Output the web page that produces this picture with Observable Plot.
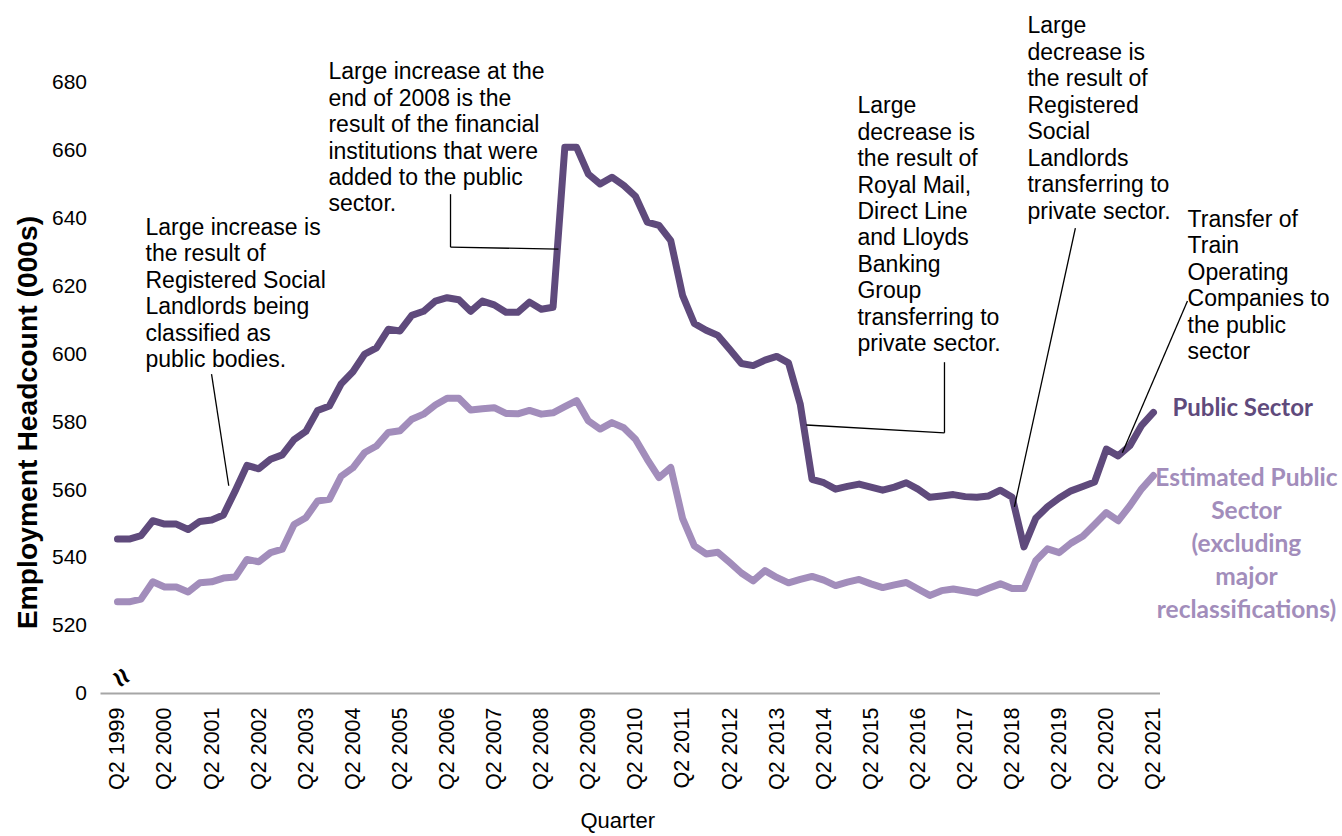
<!DOCTYPE html>
<html><head><meta charset="utf-8">
<script src="https://cdn.jsdelivr.net/npm/d3@7"></script>
<script src="https://cdn.jsdelivr.net/npm/@observablehq/plot@0.6"></script>
<style>
html,body{margin:0;padding:0;background:#fff;}
#chart{width:1342px;height:836px;overflow:hidden;}
</style></head><body><div id="chart"></div>
<script>
// Quarter categories
const quarters = [
 "Q2 1999","Q3 1999","Q4 1999",
 "Q1 2000","Q2 2000","Q3 2000","Q4 2000",
 "Q1 2001","Q2 2001","Q3 2001","Q4 2001",
 "Q1 2002","Q2 2002","Q3 2002","Q4 2002",
 "Q1 2003","Q2 2003","Q3 2003","Q4 2003",
 "Q1 2004","Q2 2004","Q3 2004","Q4 2004",
 "Q1 2005","Q2 2005","Q3 2005","Q4 2005",
 "Q1 2006","Q2 2006","Q3 2006","Q4 2006",
 "Q1 2007","Q2 2007","Q3 2007","Q4 2007",
 "Q1 2008","Q2 2008","Q3 2008","Q4 2008",
 "Q1 2009","Q2 2009","Q3 2009","Q4 2009",
 "Q1 2010","Q2 2010","Q3 2010","Q4 2010",
 "Q1 2011","Q2 2011","Q3 2011","Q4 2011",
 "Q1 2012","Q2 2012","Q3 2012","Q4 2012",
 "Q1 2013","Q2 2013","Q3 2013","Q4 2013",
 "Q1 2014","Q2 2014","Q3 2014","Q4 2014",
 "Q1 2015","Q2 2015","Q3 2015","Q4 2015",
 "Q1 2016","Q2 2016","Q3 2016","Q4 2016",
 "Q1 2017","Q2 2017","Q3 2017","Q4 2017",
 "Q1 2018","Q2 2018","Q3 2018","Q4 2018",
 "Q1 2019","Q2 2019","Q3 2019","Q4 2019",
 "Q1 2020","Q2 2020","Q3 2020","Q4 2020",
 "Q1 2021","Q2 2021"
];

// Public Sector headcount (000s)
const publicSector = [
 545.5,545.5,546.5,550.9,549.9,549.9,548.3,550.7,551.1,552.6,
 559.7,567.2,566.2,569.0,570.3,574.8,577.2,583.4,584.7,591.2,
 594.8,600.0,601.8,607.3,606.8,611.4,612.6,615.6,616.6,616.0,
 612.6,615.6,614.5,612.3,612.3,615.3,613.2,613.8,660.9,660.9,
 653.0,650.1,652.1,649.7,646.5,638.9,637.9,633.4,617.3,609.0,
 607.0,605.5,601.4,597.2,596.6,598.2,599.3,597.4,585.2,563.1,
 562.1,560.2,561.0,561.7,560.8,559.9,560.8,562.1,560.2,557.8,
 558.2,558.6,558.0,557.8,558.2,559.9,557.8,543.2,551.6,555.0,
 557.6,559.7,561.0,562.3,572.0,570.0,573.0,579.0,582.8
];

// Estimated Public Sector excluding major reclassifications (000s)
const estimatedPublicSector = [
 527.0,527.0,527.8,532.9,531.4,531.4,529.9,532.6,532.9,534.0,
 534.3,539.5,538.8,541.5,542.5,549.8,551.8,556.7,557.2,564.0,
 566.5,571.0,572.9,576.9,577.4,580.8,582.3,585.0,587.0,587.0,
 583.5,583.9,584.2,582.5,582.4,583.4,582.3,582.7,584.5,586.3,
 580.3,577.9,579.8,578.3,574.9,569.0,563.6,566.6,551.6,543.5,
 541.1,541.6,538.6,535.5,533.2,536.2,534.2,532.6,533.6,534.5,
 533.4,531.8,532.8,533.6,532.3,531.2,532.0,532.7,530.8,528.9,
 530.3,530.8,530.2,529.6,531.0,532.3,530.9,530.9,539.1,542.6,
 541.5,544.3,546.3,549.8,553.3,550.9,555.3,560.3,564.2
];

// Axis tick labels
const xTickLabels = ["Q2 1999","Q2 2000","Q2 2001","Q2 2002","Q2 2003","Q2 2004","Q2 2005","Q2 2006",
 "Q2 2007","Q2 2008","Q2 2009","Q2 2010","Q2 2011","Q2 2012","Q2 2013","Q2 2014","Q2 2015",
 "Q2 2016","Q2 2017","Q2 2018","Q2 2019","Q2 2020","Q2 2021"];
const yTickValues = [500,520,540,560,580,600,620,640,660,680];
const yTickLabels = ["0","520","540","560","580","600","620","640","660","680"];

// Annotations (anchored in data space: quarter index, headcount)
const annotationTexts = [
 "Large increase is\nthe result of\nRegistered Social\nLandlords being\nclassified as\npublic bodies.",
 "Large increase at the\nend of 2008 is the\nresult of the financial\ninstitutions that were\nadded to the public\nsector.",
 "Large\ndecrease is\nthe result of\nRoyal Mail,\nDirect Line\nand Lloyds\nBanking\nGroup\ntransferring to\nprivate sector.",
 "Large\ndecrease is\nthe result of\nRegistered\nSocial\nLandlords\ntransferring to\nprivate sector.",
 "Transfer of\nTrain\nOperating\nCompanies to\nthe public\nsector"
];
const annotationX = [2.38, 17.92, 62.86, 77.3, 90.9];
const annotationY = [640.6, 686.5, 676.5, 700.0, 643.0];

const leaderX1 = [7.99, 28.29, 28.29, 70.25, 70.25, 81.37, 90.89];
const leaderY1 = [594.1, 647.1, 631.5, 597.6, 576.8, 637.1, 615.6];
const leaderX2 = [9.45, 28.29, 37.46, 70.25, 58.52, 76.19, 85.36];
const leaderY2 = [561.2, 631.5, 630.9, 576.8, 579.1, 555.0, 570.9];

const DARK = "#5f4a7c";
const LIGHT = "#a28dbb";

const darkData = quarters.map((q, i) => ({i, q, v: publicSector[i]}));
const lightData = quarters.map((q, i) => ({i, q, v: estimatedPublicSector[i]}));
const xTicks = xTickLabels.map(l => quarters.indexOf(l));
const annotations = annotationTexts.map((t, k) => ({x: annotationX[k], y: annotationY[k], text: t}));
const leaders = leaderX1.map((d, k) => ({x1: leaderX1[k], y1: leaderY1[k], x2: leaderX2[k], y2: leaderY2[k]}));
const last = quarters.length - 1;

const chart = Plot.plot({
  width: 1342,
  height: 836,
  marginLeft: 100.5,
  marginRight: 182,
  marginTop: 82,
  marginBottom: 143,
  style: {fontFamily: "'Liberation Sans', Arial, sans-serif", background: "#fff", overflow: "visible", color: "#000"},
  x: {domain: [-1.4, 88.6]},
  y: {domain: [500, 680]},
  marks: [
    Plot.axisY({ticks: yTickValues, tickFormat: d => yTickLabels[yTickValues.indexOf(d)], tickSize: 0, tickPadding: 14, fontSize: 21, label: null}),
    Plot.axisX({ticks: xTicks, tickFormat: d => quarters[d], tickRotate: -90, tickSize: 0, tickPadding: 14, fontSize: 21.5, label: null}),
    Plot.ruleY([500], {stroke: "#a6a6a6", strokeWidth: 2}),
    Plot.text(["Quarter"], {frameAnchor: "bottom", dx: -13, dy: 134, fontSize: 22}),
    Plot.text(["Employment Headcount (000s)"], {frameAnchor: "left", textAnchor: "middle", rotate: -90, dx: -73.5, dy: 34.5, fontSize: 28.3, fontWeight: "bold"}),
    Plot.text(["≈"], {frameAnchor: "bottom-left", dx: 7.5, dy: -17, rotate: 55, fontSize: 30, fontWeight: "bold"}),
    Plot.line(lightData, {x: "i", y: "v", stroke: LIGHT, strokeWidth: 7, strokeLinejoin: "round", strokeLinecap: "round"}),
    Plot.line(darkData, {x: "i", y: "v", stroke: DARK, strokeWidth: 7, strokeLinejoin: "round", strokeLinecap: "round"}),
    Plot.link(leaders, {x1: "x1", y1: "y1", x2: "x2", y2: "y2", stroke: "#000", strokeWidth: 1.3}),
    Plot.text(annotations, {x: "x", y: "y", text: "text", textAnchor: "start", lineAnchor: "top", fontSize: 23, lineHeight: 1.15, fill: "#000"}),
    Plot.text([{x: last, y: publicSector[last], t: "Public Sector"}], {x: "x", y: "y", text: "t", textAnchor: "start", dx: 19, dy: -4, fontSize: 24, fontWeight: "bold", fill: DARK, fontFamily: "Lato, 'Open Sans', sans-serif"}),
    Plot.text([{x: last, y: estimatedPublicSector[last], t: "Estimated Public\nSector\n(excluding\nmajor\nreclassifications)"}], {x: "x", y: "y", text: "t", textAnchor: "middle", lineAnchor: "top", dx: 93, dy: -13, fontSize: 24.5, lineHeight: 1.345, fontWeight: "bold", fill: LIGHT, fontFamily: "Lato, 'Open Sans', sans-serif"})
  ]
});
document.getElementById("chart").appendChild(chart);
</script>
</body></html>
